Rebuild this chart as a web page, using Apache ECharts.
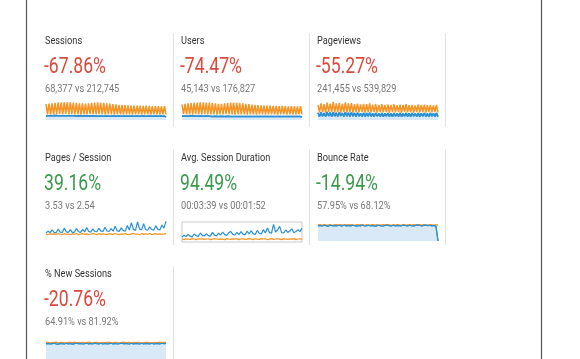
<!DOCTYPE html>
<html>
<head>
<meta charset="utf-8">
<script src="https://cdn.jsdelivr.net/npm/echarts@6/dist/echarts.min.js"></script>
<style>html,body{margin:0;padding:0;background:#fff;}#c{width:580px;height:359px;}</style>
</head>
<body>
<div id="c"></div>
<script>
const titles = ["Sessions","Users","Pageviews","Pages / Session","Avg. Session Duration","Bounce Rate","% New Sessions"];
const changes = ["-67.86%","-74.47%","-55.27%","39.16%","94.49%","-14.94%","-20.76%"];
const comparisons = ["68,377 vs 212,745","45,143 vs 176,827","241,455 vs 539,829","3.53 vs 2.54","00:03:39 vs 00:01:52","57.95% vs 68.12%","64.91% vs 81.92%"];
const isGood = [false,false,false,true,true,true,false];

const sessionsPrev = [84,30,86,28,88,30,90,29,92,31,93,30,93,32,94,30,93,31,92,29,90,30,88,28,87,29,86,30,88,31,90,29,92,30,93,31,92,29,90,28,88,30,86,29,84,28,82,30,80,29,79,28,78,30,77,29,76,28,76,29,75,30,75,28,74,29,75,30,74,28,73,29,74,30,73,28,72,29,73,30];
const sessionsCur = [22,16,23,17,22,16,24,17,23,16,22,17,23,16,22,15,23,16,22,17,21,16,22,15,21,16,22,16,21,15,22,16,21,15,20,16,21,15,20,16,21,15,20,16,21,15,20,15,21,16,20,15,21,16,20,15,21,15,20,16,21,15,20,16,21,15,20,15,21,16,20,15,21,16,20,15,21,15,20,16];
const usersPrev = [82,31,85,29,87,30,89,28,91,31,92,30,93,29,93,31,92,30,91,29,89,30,87,28,85,29,85,30,87,31,89,29,91,30,92,28,91,30,89,29,87,30,85,28,83,29,81,30,79,28,78,29,77,30,76,28,75,29,75,30,74,29,74,28,73,30,74,29,73,28,72,30,73,29,72,28,72,30,73,29];
const usersCur = [20,15,21,16,20,15,22,16,21,15,20,16,21,15,20,14,21,15,20,16,19,15,20,14,19,15,20,15,19,14,20,15,19,14,18,15,19,14,18,15,19,14,18,15,19,14,18,14,19,15,18,14,19,15,18,14,19,14,18,15,19,14,18,15,19,14,18,14,19,15,18,14,19,15,18,14,19,14,18,15];
const pageviewsPrev = [80,40,88,42,84,39,92,43,86,41,95,40,88,42,90,39,85,41,93,40,87,42,89,39,84,41,86,40,82,42,85,39,83,41,87,40,81,42,84,39,80,41,83,40,79,42,82,39,80,41,84,40,78,42,81,39,79,41,83,40,78,42,80,39,77,41,82,40,79,42,81,39,78,41,80,40,77,42,79,40];
const pageviewsCur = [38,18,40,20,37,19,42,21,39,18,41,20,38,19,40,21,37,18,41,20,38,19,39,20,36,18,38,20,35,19,37,18,36,20,38,19,35,18,37,20,34,19,36,18,35,20,37,19,34,18,36,20,35,19,37,18,34,20,36,19,35,18,37,20,34,19,36,18,35,20,37,19,34,18,36,20,35,19,36,18];
const pagesPerSessionPrev = [22,18,24,20,23,19,25,21,18,24,20,22,19,23,21,25,18,22,24,20,23,19,21,25,22,18,24,20,23,21,19,24,22,20,25,21,18,23,22,24,20,19,23,25,21,22,18,24,20,23,21,25,19,22,24,20,23,21,22,24];
const pagesPerSessionCur = [28,38,30,45,31,29,50,33,30,55,34,31,46,30,33,52,35,31,48,34,58,36,33,50,37,35,54,38,36,60,39,36,52,38,65,40,37,56,41,38,70,44,85,48,42,90,50,45,80,46,43,62,47,44,68,48,45,72,55,92];
const durationPrev = [15,12,16,14,13,17,15,12,16,14,17,13,15,16,12,14,17,15,13,16,14,12,17,15,13,16,14,17,12,15,16,13,14,17,15,12,16,14,13,17,15,16,12,14,17,13,15,16,14,12,17,15,13,16,14,17,12,15,16,14];
const durationCur = [25,34,27,38,29,26,40,31,28,45,33,30,42,32,29,48,34,31,44,35,50,37,33,46,52,38,35,48,37,52,39,36,54,40,56,42,38,58,43,40,62,45,70,47,44,88,50,60,78,47,45,60,48,55,66,46,52,62,52,68];
const bouncePrev = [84,86,83,87,85,84,86,83,85,87,84,86,85,83,87,84,86,85,83,86,84,87,85,83,86,84,85,87,84,86,83,85,87,84,86,85,83,86,84,87,85,84,86,83,85,87,84,86,85,83,86,84,87,85,84,86,85,83,86,84];
const bounceCur = [80,82,79,83,81,78,84,80,82,79,83,81,80,84,79,82,80,83,81,78,82,80,84,79,81,83,80,82,78,81,83,80,79,82,84,81,80,83,79,82,81,80,84,82,79,83,81,80,82,85,83,80,82,84,81,83,80,82,78,0];
const newSessPrev = [86,88,85,87,86,89,85,87,88,86,85,88,87,86,89,85,87,86,88,85,87,89,86,85,88,87,86,85,88,86,87,89,85,86,88,87,85,86,89,87,86,88,85,87,86,88,87,85,86,88,87,86,85,88,86,87,89,86,88,87];
const newSessCur = [80,82,79,81,83,80,78,82,81,79,83,80,82,78,81,84,80,82,79,81,83,80,82,79,84,81,80,83,79,82,80,81,83,80,82,79,81,84,80,82,81,79,83,80,82,81,79,83,80,82,81,80,83,79,81,82,80,83,81,82];

const prevSeries = [sessionsPrev, usersPrev, pageviewsPrev, pagesPerSessionPrev, durationPrev, bouncePrev, newSessPrev];
const curSeries = [sessionsCur, usersCur, pageviewsCur, pagesPerSessionCur, durationCur, bounceCur, newSessCur];

// layout
const colText = [45, 181, 317];
const colSpark = [46, 182, 318];
const rowOff = [0, 117, 233];
const hasArea = [true, true, true, false, false, true, true];
const boxed = [false, false, false, false, true, false, false];
const sparkTop = [101, 101, 101, 220, 222, 222, 340];
const sparkH = [19, 19, 19, 18, 20, 19, 19];

const BLUE = '#2a8fd3', ORANGE = '#f59323', AREA = '#d9e9f7';
const RED = '#d9493c', GREEN = '#3a9a4c';
const FONT = 'Roboto, "Liberation Sans", Arial, sans-serif';
const SX = 0.8;

const grids = [], xAxes = [], yAxes = [], series = [], graphic = [];
titles.forEach((t, i) => {
  const col = i % 3, row = Math.floor(i / 3);
  const tx = colText[col], oy = rowOff[row];
  const lw = row === 0 ? 1.5 : 1.2;
  graphic.push({type:'text', x: tx, y: oy + 41, scaleX: SX, silent: true,
    style:{text: t, fill:'#333', font: '11.5px ' + FONT, textVerticalAlign:'middle'}});
  graphic.push({type:'text', x: tx - 1, y: oy + 67, scaleX: SX, silent: true,
    style:{text: changes[i], fill: isGood[i] ? GREEN : RED, font: '22px ' + FONT, textVerticalAlign:'middle'}});
  graphic.push({type:'text', x: tx, y: oy + 89, scaleX: SX, silent: true,
    style:{text: comparisons[i], fill:'#777', font: '11.5px ' + FONT, textVerticalAlign:'middle'}});
  grids.push({left: colSpark[col], top: sparkTop[i], width: 120, height: sparkH[i],
    show: boxed[i], borderColor: '#c8c8c8', borderWidth: 1, backgroundColor: 'transparent'});
  xAxes.push({gridIndex: i, type:'category', show:false, boundaryGap:false,
    data: curSeries[i].map((_, k) => k)});
  yAxes.push({gridIndex: i, type:'value', show:false, min:0, max:100});
  series.push({type:'line', xAxisIndex:i, yAxisIndex:i, data: prevSeries[i], symbol:'none',
    lineStyle:{color: ORANGE, width: lw}, itemStyle:{color: ORANGE}, animation:false, z:2});
  const s = {type:'line', xAxisIndex:i, yAxisIndex:i, data: curSeries[i], symbol:'none',
    lineStyle:{color: BLUE, width: lw}, itemStyle:{color: BLUE}, animation:false, z:3};
  if (hasArea[i]) { s.areaStyle = {color: AREA, opacity: 1}; s.z = 1; }
  series.push(s);
  if (hasArea[i]) {
    series.push({type:'line', xAxisIndex:i, yAxisIndex:i, data: curSeries[i], symbol:'none',
      lineStyle:{color: BLUE, width: lw}, animation:false, z:3});
  }
});

// separators and frame
const sepRows = [[33,127],[150,245],[266,359]];
const sepX = [[173.5,309.5,445.5],[173.5,309.5,445.5],[173.5]];
sepRows.forEach((r, ri) => {
  sepX[ri].forEach(x => {
    graphic.push({type:'line', silent:true, shape:{x1:x, y1:r[0], x2:x, y2:r[1]},
      style:{stroke:'#e2e2e2', lineWidth:1}});
  });
});
graphic.push({type:'line', silent:true, shape:{x1:26.5, y1:0, x2:26.5, y2:359}, style:{stroke:'#555', lineWidth:1.2}});
graphic.push({type:'line', silent:true, shape:{x1:541.5, y1:0, x2:541.5, y2:359}, style:{stroke:'#555', lineWidth:1.2}});

const chart = echarts.init(document.getElementById('c'), null, {renderer:'canvas'});
chart.setOption({
  backgroundColor:'#fff',
  animation:false,
  grid: grids, xAxis: xAxes, yAxis: yAxes, series: series,
  graphic: graphic
});
</script>
</body>
</html>
